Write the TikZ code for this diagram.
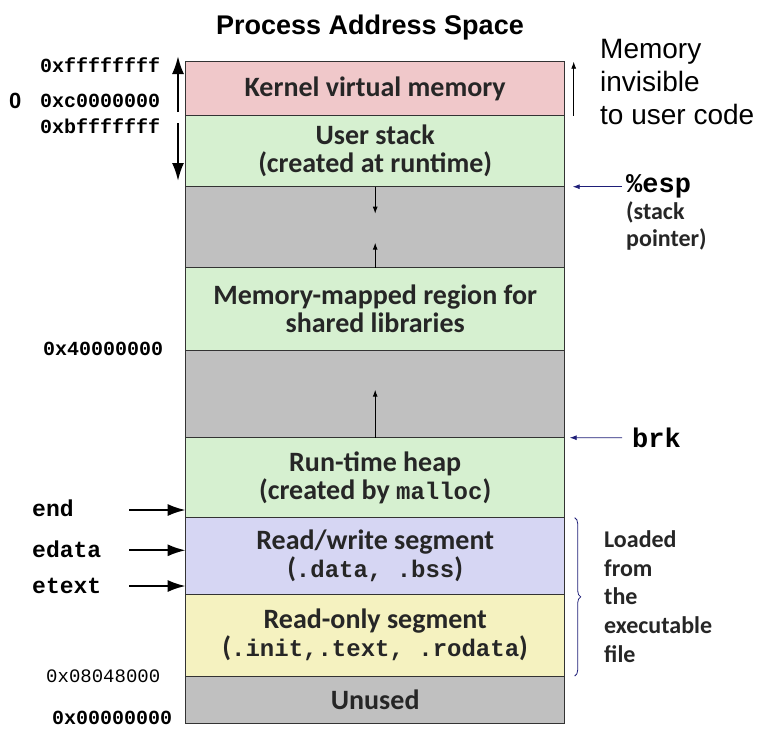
\documentclass[tikz,border=0pt]{standalone}
\usepackage{fontspec}
\setmainfont{Carlito}
\setsansfont{Liberation Sans}
\setmonofont{Liberation Mono}
\usetikzlibrary{arrows.meta,decorations.pathreplacing}
\definecolor{kernelred}{RGB}{240,200,202}
\definecolor{usergreen}{RGB}{214,240,208}
\definecolor{gapgray}{RGB}{192,192,192}
\definecolor{rwblue}{RGB}{214,214,243}
\definecolor{royellow}{RGB}{245,242,192}
\definecolor{ptrblue}{RGB}{30,30,120}
\newcommand{\mono}[1]{{\fontsize{24}{28}\selectfont\ttfamily #1}}
\tikzset{
	seg/.style={draw=black!80, line width=1pt, anchor=north west, minimum width=379pt, inner sep=0pt, outer sep=0pt, align=center, font=\fontsize{28}{28}\selectfont\bfseries, text=black!85},
	addr/.style={anchor=base west, inner sep=0pt, font=\fontsize{20}{20}\selectfont\ttfamily\bfseries},
	symlbl/.style={addr, font=\fontsize{23}{23}\selectfont\ttfamily\bfseries},
	side/.style={anchor=base west, inner sep=0pt, font=\fontsize{24}{24}\selectfont\bfseries, text=black!85},
	note/.style={anchor=base west, inner sep=0pt, font=\fontsize{28}{28}\selectfont\sffamily},
	bigarrow/.style={line width=2.2pt, -{Latex[length=18pt,width=12pt]}},
	growarrow/.style={line width=1pt, -{Latex[length=7pt,width=5pt]}},
	ptrarrow/.style={ptrblue, line width=0.8pt, -{Latex[length=7pt,width=5pt]}}
}

\begin{document}
\begin{tikzpicture}[x=1pt,y=-1pt]
		\useasboundingbox (0,0) rectangle (758,740);

		\node[font=\sffamily\bfseries\fontsize{27}{27}\selectfont, anchor=base, inner sep=0pt] (title) at (370,34) {Process Address Space};

		\node[seg, fill=kernelred, minimum height=54pt] (kernel) at (185.7,61.7) {Kernel virtual memory};
		\node[seg, fill=usergreen, minimum height=71pt] (stack) at (kernel.south west) {User stack\\(created at runtime)};
		\node[seg, fill=gapgray, minimum height=81pt] (gapa) at (stack.south west) {};
		\node[seg, fill=usergreen, minimum height=82.3pt] (mmap) at (gapa.south west) {Memory-mapped region for\\shared libraries};
		\node[seg, fill=gapgray, minimum height=87.7pt] (gapb) at (mmap.south west) {};
		\node[seg, fill=usergreen, minimum height=80pt] (heap) at (gapb.south west) {Run-time heap\\(created by \mono{malloc})};
		\node[seg, fill=rwblue, minimum height=76.3pt] (rw) at (heap.south west) {Read/write segment\\(\mono{.data, .bss})};
		\node[seg, fill=royellow, minimum height=82pt] (ro) at (rw.south west) {Read-only segment\\(\mono{.init,.text, .rodata})};
		\node[seg, fill=gapgray, minimum height=47pt] (unused) at (ro.south west) {Unused};

		\draw[growarrow] (gapa.north) -- ++(0,27);
		\draw[growarrow] (gapa.south) -- ++(0,-25);
		\draw[growarrow] (gapb.south) -- ++(0,-48);

		\node[addr] (addrtop) at (40,72.3) {0xffffffff};
		\node[addr] (addrkern) at (40,107.7) {0xc0000000};
		\node[addr] (addrstack) at (40,133.3) {0xbfffffff};
		\node[font=\sffamily\bfseries\fontsize{22}{22}\selectfont, anchor=base west, inner sep=0pt] (zero) at (9,108.3) {0};
		\node[addr] (addrmmap) at (43,355) {0x40000000};
		\node[addr, font=\fontsize{19}{19}\selectfont\ttfamily] (addrtext) at (46,682.3) {0x08048000};
		\node[addr] (addrnull) at (52,724) {0x00000000};

		\coordinate (kernfrom) at (178,112);
		\coordinate (kernto) at (178,56);
		\coordinate (stackfrom) at (178,123);
		\coordinate (stackto) at (178,181);
		\draw[bigarrow] (kernfrom) -- (kernto);
		\draw[bigarrow] (stackfrom) -- (stackto);

		\node[symlbl] (endlbl) at (32,516.7) {end};
		\node[symlbl] (edatalbl) at (32,557.3) {edata};
		\node[symlbl] (etextlbl) at (32,593.3) {etext};
		\coordinate (endtail) at (129,510);
		\coordinate (edatatail) at (129,550.3);
		\coordinate (etexttail) at (129,586);
		\draw[bigarrow] (endtail) -- (endtail -| heap.west);
		\draw[bigarrow] (edatatail) -- (edatatail -| rw.west);
		\draw[bigarrow] (etexttail) -- (etexttail -| rw.west);

		\draw[growarrow, line width=0.8pt] ([xshift=9pt]kernel.south east) -- ([xshift=9pt]kernel.north east);
		\node[note] (invis1) at (600,58.3) {Memory};
		\node[note] (invis2) at (600,91.7) {invisible};
		\node[note] (invis3) at (600,124) {to user code};

		\node[anchor=west, inner sep=0pt, inner xsep=4pt, font=\fontsize{27}{27}\selectfont\ttfamily\bfseries] (esp) at (622,186.7) {\%esp};
		\draw[ptrarrow] (esp.west) -- ([xshift=8pt]stack.south east);
		\node[side] (espnote1) at (626,219) {(stack};
		\node[side] (espnote2) at (626,246) {pointer)};

		\node[anchor=west, inner sep=0pt, inner xsep=10pt, font=\fontsize{27}{27}\selectfont\ttfamily\bfseries] (brk) at (622,437.7) {brk};
		\draw[ptrarrow] (brk.west) -- ([xshift=5pt]gapb.south east);

		\draw[ptrblue, line width=0.8pt, decorate, decoration={brace, amplitude=6pt}] ([xshift=10pt]rw.north east) -- ([xshift=10pt]ro.south east);
		\foreach \word [count=\i] in {Loaded,from,the,executable,file}
			\node[side] (load\i) at (604,518.7+28.7*\i) {\word};

	\end{tikzpicture}
\end{document}
